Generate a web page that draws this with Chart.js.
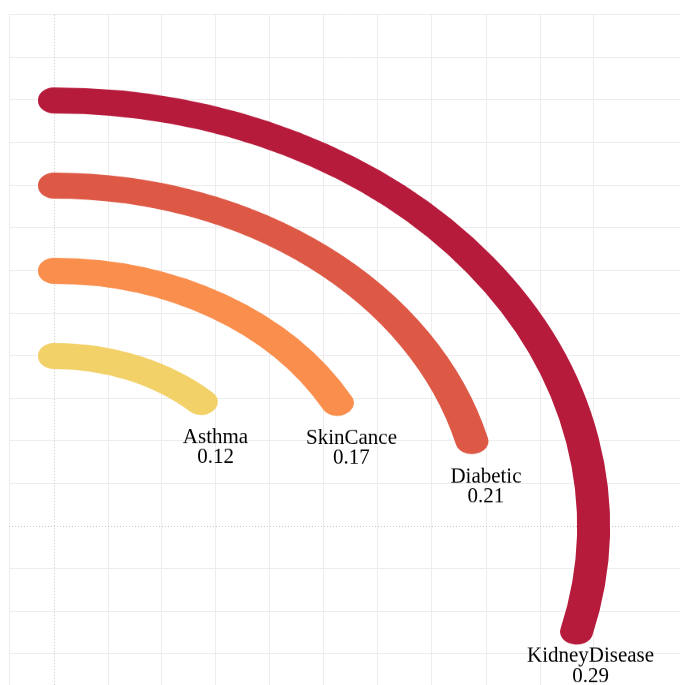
<!DOCTYPE html>
<html>
<head>
<meta charset="utf-8">
<script src="https://cdn.jsdelivr.net/npm/chart.js@4.4.0/dist/chart.umd.min.js"></script>
<style>
  html, body { margin: 0; padding: 0; background: #fff; overflow: hidden; }
  #wrap { position: relative; width: 680px; height: 685px; overflow: hidden; background: #fff; }
  #grid { position: absolute; left: 0; top: 0; }
  #rings { position: absolute; left: -502px; top: -30px; transform-origin: 556px 556px; transform: scaleY(0.78889); }
</style>
</head>
<body>
<div id="wrap">
  <canvas id="grid" width="680" height="685"></canvas>
  <canvas id="rings" width="1300" height="1112"></canvas>
</div>
<script>
// ---------------- data ----------------
const categories  = ['KidneyDisease', 'Diabetic', 'SkinCance', 'Asthma'];
const values      = [0.29, 0.21, 0.17, 0.12];
const valueLabels = ['0.29', '0.21', '0.17', '0.12'];
const ringRadius  = [10, 8, 6, 4];          // radius of each arc in grid units
const colors      = ['#b71b3c', '#dd5946', '#f98e4d', '#f2d168'];

// ---------------- layout constants ----------------
const UNIT = 54;                 // px per grid unit (horizontal)
const SQ = 42.6 / 54;            // vertical squish of the plot
const CENTER_Y = 526;            // screen y of origin
const STROKE = 32;               // arc stroke width
const OUTER = ringRadius[0] * UNIT;   // 540

// ---------------- background grid ----------------
const zeroLines = {
  id: 'zeroLines',
  afterDraw(chart) {
    const { ctx, chartArea, scales: { x, y } } = chart;
    const px = Math.round(x.getPixelForValue(0)) + 0.5;
    const py = Math.round(y.getPixelForValue(0)) + 0.5;
    ctx.save();
    ctx.strokeStyle = '#c6c6c6';
    ctx.lineWidth = 1;
    ctx.setLineDash([1, 2]);
    ctx.beginPath();
    ctx.moveTo(px, chartArea.top); ctx.lineTo(px, chartArea.bottom);
    ctx.moveTo(chartArea.left, py); ctx.lineTo(chartArea.right, py);
    ctx.stroke();
    ctx.restore();
  }
};
const gridColor = c => (c.tick && c.tick.value === 0) ? 'rgba(0,0,0,0)' : '#ededed';
new Chart(document.getElementById('grid'), {
  type: 'scatter',
  data: { datasets: [] },
  options: {
    responsive: false, animation: false, events: [],
    layout: { padding: { left: 9, top: 14.8, right: 0, bottom: 0 } },
    plugins: { legend: { display: false }, tooltip: { enabled: false } },
    scales: {
      x: { type: 'linear', min: -45 / 54, max: 626 / 54,
           ticks: { display: false, stepSize: 1 },
           grid: { color: gridColor, drawTicks: false, lineWidth: 1 },
           border: { display: false } },
      y: { type: 'linear', min: -159 / 42.6, max: 12,
           ticks: { display: false, stepSize: 1 },
           grid: { color: gridColor, drawTicks: false, lineWidth: 1 },
           border: { display: false } }
    }
  },
  plugins: [zeroLines]
});

// ---------------- radial arcs ----------------
const datasets = [];
const ringIndex = [];
categories.forEach((name, i) => {
  ringIndex.push(datasets.length);
  datasets.push({
    label: name,
    data: [values[i], 1 - values[i]],
    backgroundColor: [colors[i], 'rgba(0,0,0,0)'],
    borderColor: [colors[i], 'rgba(0,0,0,0)'],
    borderWidth: [STROKE, 0],
    borderJoinStyle: 'round',
    weight: 1
  });
  if (i < categories.length - 1) {
    const gapPx = (ringRadius[i] - ringRadius[i + 1]) * UNIT - 1;
    datasets.push({
      label: 'gap' + i,
      data: [1],
      backgroundColor: 'rgba(0,0,0,0)',
      borderWidth: 0,
      weight: gapPx
    });
  }
});
const innerPx = ringRadius[ringRadius.length - 1] * UNIT - 1;

const endLabels = {
  id: 'endLabels',
  afterDatasetsDraw(chart) {
    const ctx = chart.ctx;
    ringIndex.forEach((dsIdx, k) => {
      const arc = chart.getDatasetMeta(dsIdx).data[0];
      const rc = (arc.innerRadius + arc.outerRadius) / 2;
      const ex = arc.x + rc * Math.cos(arc.endAngle);
      const ey = arc.y + rc * Math.sin(arc.endAngle);
      const screenEy = CENTER_Y + (ey - arc.y) * SQ;
      const base = Math.min(screenEy + 41, 662) - screenEy;
      ctx.save();
      ctx.translate(ex, ey);
      ctx.scale(1, 1 / SQ);
      ctx.font = '21px "Liberation Serif", "Times New Roman", serif';
      ctx.fillStyle = '#000';
      ctx.textAlign = 'center';
      ctx.textBaseline = 'alphabetic';
      ctx.fillText(categories[k], 14, base);
      ctx.fillText(valueLabels[k], 14, base + 20);
      ctx.restore();
    });
  }
};

new Chart(document.getElementById('rings'), {
  type: 'doughnut',
  data: { labels: ['value', 'rest'], datasets },
  options: {
    responsive: false, animation: false, events: [],
    layout: { padding: { left: 0, top: 0, right: 188, bottom: 0 } },
    radius: OUTER,
    cutout: (innerPx / OUTER * 100) + '%',
    rotation: 0,
    circumference: 360,
    plugins: { legend: { display: false }, tooltip: { enabled: false } }
  },
  plugins: [endLabels]
});
</script>
</body>
</html>
